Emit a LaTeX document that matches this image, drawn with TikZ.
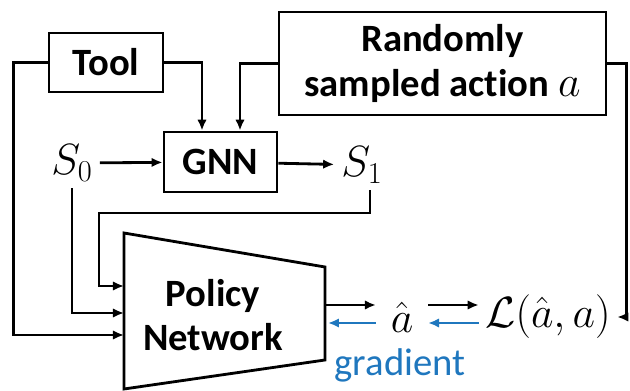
\documentclass[tikz,border=0pt]{standalone}
\usepackage{fontspec}
\setsansfont{Carlito}[Ligatures=NoCommon]
\usetikzlibrary{arrows.meta, positioning}
\definecolor{gradblue}{RGB}{31,119,190}
\newcommand{\bigtext}{\fontsize{22}{25.5}\selectfont}
\newcommand{\mathtext}{\fontsize{25}{28}\selectfont}

\begin{document}
\begin{tikzpicture}[>={Latex[length=2.2mm,width=1.9mm]}, line width=1.6pt, font=\sffamily\bigtext,
	box/.style={draw, line width=1.6pt, font=\sffamily\bfseries\bigtext, align=center},
	sym/.style={font=\mathtext},
	grad/.style={gradblue}]

		\useasboundingbox (0,0) rectangle (12.6,7.82);

		% --- Caixas de cima
		\node[box, minimum width=2.28cm, minimum height=1.18cm] (tool) at (2.12,6.57) {Tool};
		\node[box, minimum width=6.54cm, minimum height=2.06cm] (rand) at (8.85,6.55) {Randomly\\sampled action {\mathtext$a$}};
		\node[box, minimum width=2.26cm, minimum height=1.2cm] (gnn) at (4.41,4.58) {GNN};

		% Estados
		\node[sym] (s0) at (1.44,4.56) {$S_0$};
		\node[sym] (s1) at (7.24,4.52) {$S_1$};

		% --- Rede de politica (trapezio)
		\draw (2.48,3.16) -- (6.5,2.48) -- (6.5,0.62) -- (2.48,0.04) -- cycle;
		\node[font=\sffamily\bfseries\bigtext, align=center] (policy) at (4.26,1.52) {Policy\\Network};
		\coordinate (in1) at (2.48,2.1);
		\coordinate (in2) at (2.48,1.56);
		\coordinate (in3) at (2.48,1.12);
		\coordinate (pout) at (6.5,1.72);
		\coordinate (pgrad) at (6.56,1.36);
		\coordinate (bend) at (1.98,3.56);

		% Saidas
		\node[sym, inner xsep=0.27cm] (ahat) at (8.04,1.48) {$\hat{a}$};
		\node[font=\fontsize{23}{26}\selectfont, inner xsep=3pt] (loss) at (10.96,1.48) {$\mathcal{L}(\hat{a},a)$};
		\node[grad] (gradtxt) at (8.0,0.52) {gradient};

		% Setas
		\draw[->] (tool.east) -| ([xshift=-0.37cm]gnn.north);
		\draw[->] (rand.west) -| ([xshift=0.39cm]gnn.north);
		\draw[->] (s0) -- (gnn);
		\draw[->] (gnn) -- (s1);
		\draw[->] (tool.west) -- ++(-0.68,0) |- (in3);
		\draw[->] (s0.south) |- (in2);
		\draw[->] ([xshift=0.16cm]s1.south) |- (bend) |- (in1);
		\draw[->] (rand.east) -- ++(0.38,0) |- (loss.east);
		\draw[->] (pout) -- (pout -| ahat.west);
		\draw[->] (ahat.east |- pout) -- (loss.west |- pout);
		\draw[->,grad] (loss.west |- pgrad) -- (ahat.east |- pgrad);
		\draw[->,grad] (ahat.west |- pgrad) -- (pgrad);

	\end{tikzpicture}
\end{document}
